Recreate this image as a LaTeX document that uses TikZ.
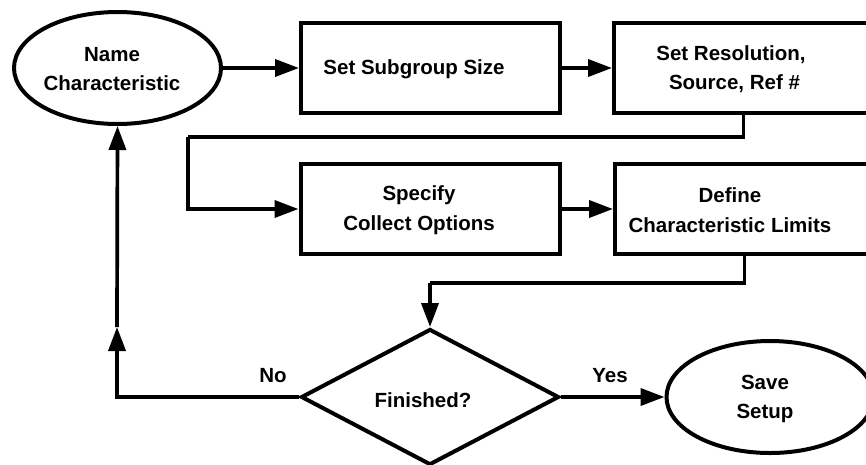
\documentclass[tikz,border=0pt]{standalone}
\usepackage{fontspec}
\setmainfont{Liberation Sans}
\usetikzlibrary{arrows.meta,shapes.geometric}
\begin{document}
\begin{tikzpicture}[x=1pt,y=-1pt,
  every node/.style={font=\bfseries\fontsize{20.5}{29.5}\selectfont},
  shapeline/.style={draw=black,line width=4pt,inner sep=0pt,fill=white},
  terminal/.style={shapeline,ellipse,minimum width=207pt,minimum height=112pt},
  stepbox/.style={shapeline,rectangle,minimum width=259pt,minimum height=90pt},
  decision/.style={shapeline,diamond,minimum width=258pt,minimum height=136pt},
  txt/.style={align=center,inner sep=0pt},
  conn/.style={line width=3.7pt,-{Triangle[length=24pt,width=17pt]}},
  plain/.style={line width=3.7pt}]
\useasboundingbox (0,0) rectangle (866,464);
\clip (0,0) rectangle (866,464);

% shapes
\node[terminal] (name) at (117.5,68) {};
\node[stepbox] (sub) at (430.5,68) {};
\node[stepbox] (res) at (743.5,68) {};
\node[stepbox] (spec) at (430,209) {};
\node[stepbox] (def) at (744.5,209) {};
\node[decision] (fin) at (430,397) {};
\node[terminal] (save) at (770,397) {};

% texts
\node[txt] (tname) at (112,69) {Name\\Characteristic};
\node[txt] (tsub) at (414,69) {Set Subgroup Size};
\node[txt] (tres) at (731,69) {Set Resolution,\\\hspace*{7pt}Source, Ref \#};
\node[txt] (tspec) at (419,210) {Specify\\Collect Options};
\node[txt] (tdef) at (730,210) {Define\\Characteristic Limits};
\node[txt] (tfin) at (423,400) {Finished?};
\node[txt] (tsave) at (765,399) {Save\\Setup};
\node[txt,anchor=base] (tno) at (273,382) {No};
\node[txt,anchor=base] (tyes) at (610,382) {Yes};

% connector bends
\coordinate (b1) at (188,137);
\coordinate (b2) at (430,283);
\coordinate (b3) at (117,327);

% connectors
\draw[conn] (name.east) -- (sub.west);
\draw[conn] (sub.east) -- (res.west);
\draw[plain] (res.south) |- (b1);
\draw[conn] (b1) |- (spec.west);
\draw[conn] (spec.east) -- (def.west);
\draw[plain] (def.south) |- (b2);
\draw[conn] (b2) -- (fin.north);
\draw[conn] (fin.west) -| (b3);
\draw[conn] (b3) -- (name.south);
\draw[conn] (fin.east) -- (save.west);
\end{tikzpicture}
\end{document}
